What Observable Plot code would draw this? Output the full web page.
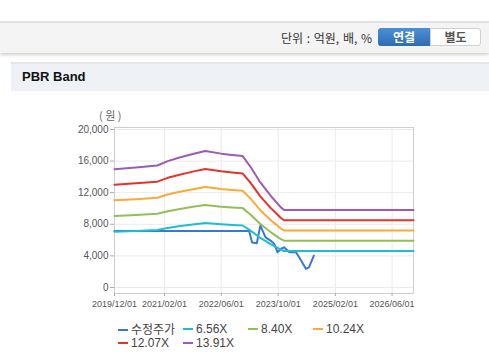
<!DOCTYPE html>
<html><head><meta charset="utf-8">
<script src="https://cdn.jsdelivr.net/npm/d3@7"></script>
<script src="https://cdn.jsdelivr.net/npm/@observablehq/plot@0.6"></script>
<style>
body{margin:0;width:489px;height:361px;background:#fff;position:relative;overflow:hidden;font-family:"Liberation Sans",Arial,"Noto Sans CJK KR",sans-serif;}
.abs{position:absolute;}
#topbar{left:0;top:21px;width:489px;height:30px;background:#f4f4f4;border-top:2px solid #e2e2e2;box-shadow:0 2px 3px rgba(0,0,0,0.18);}
#unit{right:117px;top:30px;font-size:12px;color:#333;font-family:"Noto Sans CJK KR",sans-serif;line-height:16px;word-spacing:1px;}
#btn1{left:378px;top:28px;width:52px;height:18px;background:linear-gradient(#4d8fd6,#2d6cb2);border-radius:3px 0 0 3px;color:#fff;font-weight:bold;font-size:12px;text-align:center;line-height:18px;font-family:"Noto Sans CJK KR",sans-serif;}
#btn2{left:430px;top:28px;width:49px;height:16px;background:#fff;border:1px solid #cfcfcf;border-radius:0 3px 3px 0;color:#555;font-weight:bold;font-size:12px;text-align:center;line-height:16px;font-family:"Noto Sans CJK KR",sans-serif;}
#sec{left:11px;top:62px;width:478px;height:27px;background:#eef1f5;border-top:2px solid #e3e6ea;}
#sectitle{left:22px;top:69px;font-size:13px;font-weight:bold;color:#111;font-family:"Liberation Sans",Arial,sans-serif;}
#unitlbl{left:99px;top:107px;font-size:11px;color:#666;font-family:"Noto Sans CJK KR",sans-serif;white-space:pre;}
#chart{left:0;top:100px;}
.leg{position:absolute;font-size:12px;color:#444;line-height:14px;white-space:nowrap;}
.leg .sw{display:inline-block;width:10px;height:2px;vertical-align:middle;margin-right:3px;position:relative;top:-1px;}
</style></head>
<body>
<div id="topbar" class="abs"></div>
<div id="unit" class="abs">단위 : 억원, 배, %</div>
<div id="btn1" class="abs">연결</div>
<div id="btn2" class="abs">별도</div>
<div id="sec" class="abs"></div>
<div id="sectitle" class="abs">PBR Band</div>
<div id="unitlbl" class="abs">( 원 )</div>
<div id="chart" class="abs"></div>
<div id="legend"></div>
<script>
// Band dates (shared by all band series)
const bandDates = ["2019-12-01","2020-06-01","2020-12-01","2021-03-01","2021-06-01","2021-10-01","2022-01-15","2022-06-01","2022-09-01","2022-12-01","2023-02-10","2023-05-01","2023-07-28","2023-10-24","2023-11-20","2026-12-01"];
const band656  = [7065,7164,7282,7544,7741,7970,8148,7990,7911,7846,7164,6271,5478,4782,4625,4625];
const band840  = [9047,9173,9324,9660,9912,10206,10433,10231,10130,10046,9173,8030,7014,6124,5922,5922];
const band1024 = [11028,11182,11366,11776,12083,12442,12718,12472,12349,12247,11182,9789,8550,7465,7219,7219];
const band1207 = [13000,13180,13398,13881,14243,14665,14991,14701,14556,14436,13180,11539,10078,8799,8509,8509];
const band1391 = [14981,15190,15440,15997,16414,16901,17276,16942,16775,16636,15190,13298,11615,10140,9807,9807];

// Adjusted price (수정주가)
const priceDates = ["2019-12-01","2023-01-25","2023-02-20","2023-04-01","2023-05-01","2023-06-15","2023-07-28","2023-08-28","2023-09-25","2023-10-24","2023-11-20","2024-01-05","2024-03-01","2024-03-28","2024-05-25","2024-06-20","2024-08-01"];
const priceValues = [7150,7150,5700,5600,7830,6350,5940,5520,4460,4890,5090,4460,4460,3830,2360,2560,4040];

const seriesNames = ["수정주가","6.56X","8.40X","10.24X","12.07X","13.91X"];
const seriesColors = ["#3a78d0","#1fbdd3","#93bf57","#f9aa3a","#e5332b","#9d5bb1"];

const yTicks = [0,4000,8000,12000,16000,20000];
const xTickLabels = ["2019/12/01","2021/02/01","2022/06/01","2023/10/01","2025/02/01","2026/06/01"];

const parse = s => new Date(s.replace(/\//g,"-") + "T00:00:00Z");
const xTicks = xTickLabels.map(parse);

const bandSeries = [band656, band840, band1024, band1207, band1391];
const rows = [];
priceDates.forEach((d,i) => rows.push({s: seriesNames[0], date: parse(d), v: priceValues[i]}));
bandSeries.forEach((arr, k) => arr.forEach((v,i) => rows.push({s: seriesNames[k+1], date: parse(bandDates[i]), v})));

const chart = Plot.plot({
  width: 489, height: 220,
  marginLeft: 114, marginRight: 76, marginTop: 27, marginBottom: 27,
  x: {type: "utc", domain: [parse("2019-12-01"), parse("2026-12-01")]},
  y: {domain: [-760, 20250]},
  color: {domain: seriesNames, range: seriesColors},
  style: {fontFamily: "'Liberation Sans', Arial, sans-serif", fontSize: "10px", color: "#555", background: "transparent"},
  marks: [
    Plot.gridY(yTicks, {stroke: "#ebebeb", strokeOpacity: 1}),
    Plot.gridX(xTicks, {stroke: "#ebebeb", strokeOpacity: 1}),
    Plot.frame({stroke: "#cfcfcf"}),
    Plot.axisY(yTicks, {tickFormat: d3.format(","), tickSize: 4, tickPadding: 2, label: null, stroke: "#aaa"}),
    Plot.axisX(xTicks, {tickFormat: d3.utcFormat("%Y/%m/%d"), tickSize: 3, tickPadding: 4, label: null, stroke: "#aaa", fontSize: 9}),
    Plot.line(rows, {x: "date", y: "v", z: "s", stroke: "s", strokeWidth: 2, curve: "linear"})
  ]
});
document.getElementById("chart").appendChild(chart);

// Legend
const legPos = [[118,322],[183,322],[248,322],[313,322],[118,336],[183,336]];
const leg = document.getElementById("legend");
seriesNames.forEach((n,i) => {
  const d = document.createElement("div");
  d.className = "leg";
  d.style.left = legPos[i][0] + "px";
  d.style.top = legPos[i][1] + "px";
  if (i === 0) d.style.fontFamily = "'Noto Sans CJK KR', sans-serif";
  d.innerHTML = `<span class="sw" style="background:${seriesColors[i]}"></span>${n}`;
  leg.appendChild(d);
});
</script>
</body></html>
